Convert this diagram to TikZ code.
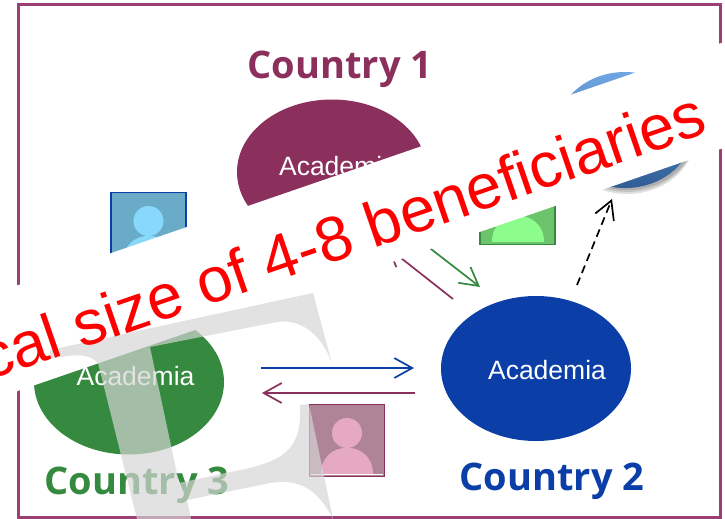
\documentclass[tikz,border=0pt]{standalone}
\usepackage{fontspec}
\setmainfont{Liberation Sans}
\newfontfamily\titlefont{Open Sans}
\usetikzlibrary{arrows.meta,shapes.geometric}
\definecolor{maroonc}{HTML}{8B2F5C}
\definecolor{framec}{HTML}{9C3F74}
\definecolor{bluec}{HTML}{0C3EA8}
\definecolor{greenc}{HTML}{358A40}
\definecolor{sphtop}{HTML}{6FA6E2}
\definecolor{sphbot}{HTML}{2F5C94}

\begin{document}
\begin{tikzpicture}[x=1pt,y=-1pt,line width=1.7pt,>={Straight Barb[length=18pt,width=20pt]}]
  \tikzstyle{acad}=[ellipse,minimum width=190pt,minimum height=145pt,inner sep=0pt]
  \tikzstyle{acadtext}=[text=white,font=\fontsize{26.5}{26.5}\selectfont]
  \tikzstyle{country}=[font=\titlefont\bfseries\fontsize{38}{38}\selectfont]
  \tikzstyle{person}=[minimum width=75pt,minimum height=72pt,inner sep=0pt,draw,line width=1.5pt]

  \useasboundingbox (0,0) rectangle (725,519);
  \clip (0,0) rectangle (725,519);

  % frame
  \draw[framec,line width=3pt] (18,5) rectangle (720,517);

  % countries
  \node[country,text=maroonc] (c1) at (340,69) {Country 1};
  \node[country,text=bluec] (c2) at (552,481.5) {Country 2};
  \node[country,text=greenc] (c3) at (137,485.5) {Country 3};

  \node[acad,fill=maroonc] (a1) at (332,172) {};
  \node[acad,fill=bluec] (a2) at (536,368.5) {};
  \node[acad,fill=greenc] (a3) at (129,382) {};
  \node[acadtext] (t1) at (338,166) {Academia};
  \node[acadtext] (t2) at (547,370) {Academia};
  \node[acadtext] (t3) at (135.5,376) {Academia};

  % persons
  \foreach \n/\x/\y/\bc/\fc/\hc in {p1/148.5/228.5/bluec/6AABC8/87D8FA,p2/517.5/208.5/greenc/6BC46B/8CFC8C,p3/347/440.5/maroonc/B08497/E6A9C4}{
    \definecolor{boxc}{HTML}{\fc}
    \definecolor{headc}{HTML}{\hc}
    \node[person,draw=\bc,fill=boxc] (\n) at (\x,\y) {};
    \fill[headc] (\x,\y-7.5) circle (15);
    \fill[headc] (\x-26,\y+33) .. controls (\x-26,\y-2) and (\x+26,\y-2) .. (\x+26,\y+33) -- cycle;
  }
  \draw[white,line width=1pt] ([xshift=2pt,yshift=2.5pt]p3.south west) -- ([xshift=-2pt,yshift=2.5pt]p3.south east);

  % sphere
  \foreach \r in {1,3,5}
    \fill[black,opacity=0.12] (627,131+\r) ellipse (68 and 58);
  \shade[top color=sphtop,bottom color=sphbot] (625,130) ellipse (68 and 58);

  % arrows
  \coordinate (m1) at (453,299);
  \coordinate (m2) at (387,247);
  \coordinate (g1) at (400,225);
  \coordinate (g2) at (480,287);
  \coordinate (k1) at (577,285);
  \coordinate (k2) at (612,199);
  \coordinate (b1) at (261,368);
  \coordinate (b2) at (414,368);
  \coordinate (r1) at (415,393);
  \coordinate (r2) at (262,393);
  \draw[->,maroonc] (m1) -- (m2);
  \draw[->,greenc] (g1) -- (g2);
  \draw[->,black,dash pattern=on 8pt off 5pt] (k1) -- (k2);
  \draw[->,bluec] (b1) -- (b2);
  \draw[->,maroonc] (r1) -- (r2);

  % band
  \node[fill=white,rotate=19,minimum width=900pt,minimum height=100pt,inner sep=0pt] (band) at (355,222) {};

  % watermark
  \definecolor{markc}{gray}{0.835}
  \fill[markc,opacity=0.69] (50,350) -- (313,293) -- (333,367)
    .. controls (325,340) and (305,318) .. (277,322)
    -- (150,347) -- (179,483) -- (230,472)
    .. controls (285,462) and (302,450) .. (300,405)
    -- (309,404) -- (333,519)
    .. controls (318,490) and (300,478) .. (270,483)
    -- (187,500) -- (191,519) -- (137,519) -- (98,363)
    .. controls (88,352) and (70,355) .. (50,359) -- cycle;

  % label
  \node[text=red,rotate=19,anchor=base east,font=\fontsize{63.3}{63.3}\selectfont] (banner) at (714,131) {cal size of 4-8 beneficiaries};
\end{tikzpicture}
\end{document}
